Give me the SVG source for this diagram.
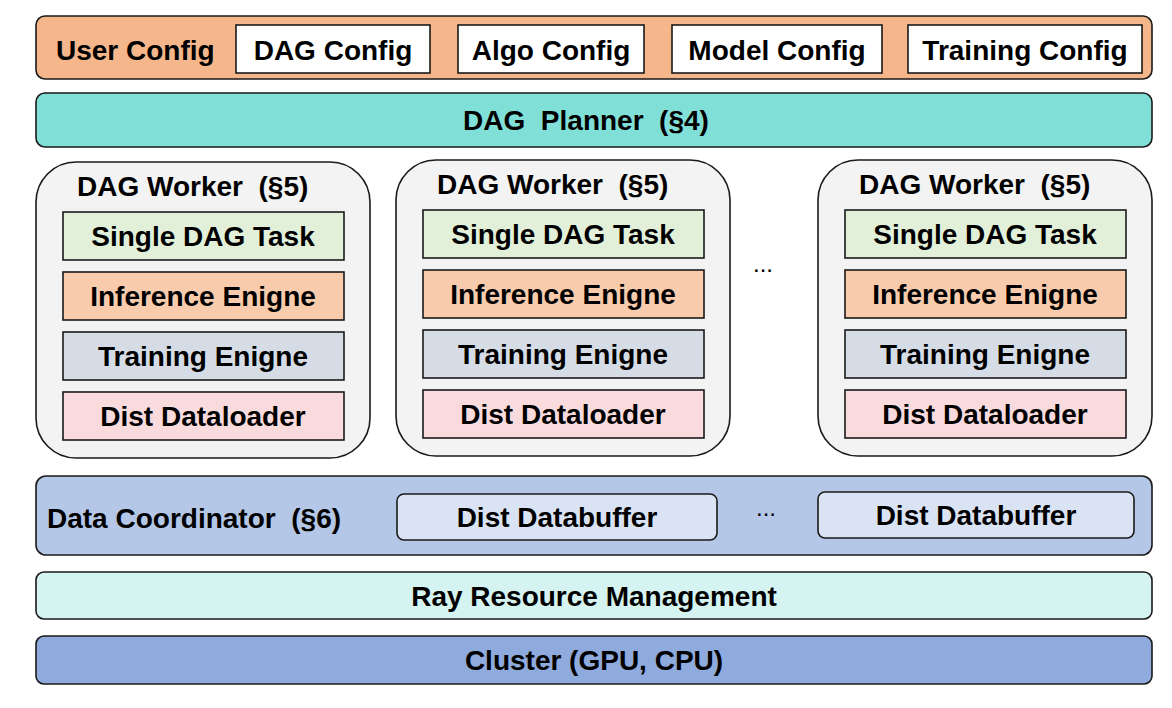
<svg xmlns="http://www.w3.org/2000/svg" width="1172" height="708" viewBox="0 0 1172 708">
<style>
text{font-family:"Liberation Sans",Arial,sans-serif;font-weight:bold;font-size:28px;fill:#000}
.c{text-anchor:middle}
.d{font-weight:normal;font-size:24px}
.b{stroke:#1a1a1a;stroke-width:1.6}
.cfg{fill:#ffffff}
.w{fill:#f3f3f3}
.t1{fill:#e2f0d9}
.t2{fill:#f8cbad}
.t3{fill:#d6dce5}
.t4{fill:#f9dbde}
.buf{fill:#dae3f3}
</style>
<rect width="1172" height="708" fill="#ffffff"/>
<g id="user-config">
<rect class="b" x="36" y="16" width="1116" height="63" rx="9" fill="#f4b68a"/>
<text x="56" y="60">User Config</text>
<rect class="b cfg" x="236" y="25" width="194" height="48"/>
<text class="c" x="333" y="60">DAG Config</text>
<rect class="b cfg" x="458" y="25" width="186" height="48"/>
<text class="c" x="551" y="60">Algo Config</text>
<rect class="b cfg" x="672" y="25" width="210" height="48"/>
<text class="c" x="777" y="60">Model Config</text>
<rect class="b cfg" x="908" y="25" width="234" height="48"/>
<text class="c" x="1025" y="60">Training Config</text>
</g>
<g id="dag-planner">
<rect class="b" x="36" y="93" width="1116" height="54" rx="9" fill="#80dfd6"/>
<text class="c" x="586" y="130" xml:space="preserve">DAG  Planner  (§4)</text>
</g>
<g id="worker-1">
<rect class="b w" x="36" y="162" width="334" height="296" rx="40"/>
<text x="77" y="196" xml:space="preserve">DAG Worker  (§5)</text>
<rect class="b t1" x="63" y="212" width="281" height="48"/>
<text class="c" x="203" y="246">Single DAG Task</text>
<rect class="b t2" x="63" y="272" width="281" height="48"/>
<text class="c" x="203" y="306">Inference Enigne</text>
<rect class="b t3" x="63" y="332" width="281" height="48"/>
<text class="c" x="203" y="366">Training Enigne</text>
<rect class="b t4" x="63" y="392" width="281" height="48"/>
<text class="c" x="203" y="426">Dist Dataloader</text>
</g>
<g id="worker-2">
<rect class="b w" x="396" y="160" width="334" height="296" rx="40"/>
<text x="437" y="194" xml:space="preserve">DAG Worker  (§5)</text>
<rect class="b t1" x="423" y="210" width="281" height="48"/>
<text class="c" x="563" y="244">Single DAG Task</text>
<rect class="b t2" x="423" y="270" width="281" height="48"/>
<text class="c" x="563" y="304">Inference Enigne</text>
<rect class="b t3" x="423" y="330" width="281" height="48"/>
<text class="c" x="563" y="364">Training Enigne</text>
<rect class="b t4" x="423" y="390" width="281" height="48"/>
<text class="c" x="563" y="424">Dist Dataloader</text>
</g>
<g id="ellipsis-workers">
<text class="c d" x="763" y="272">...</text>
</g>
<g id="worker-3">
<rect class="b w" x="818" y="160" width="334" height="296" rx="40"/>
<text x="859" y="194" xml:space="preserve">DAG Worker  (§5)</text>
<rect class="b t1" x="845" y="210" width="281" height="48"/>
<text class="c" x="985" y="244">Single DAG Task</text>
<rect class="b t2" x="845" y="270" width="281" height="48"/>
<text class="c" x="985" y="304">Inference Enigne</text>
<rect class="b t3" x="845" y="330" width="281" height="48"/>
<text class="c" x="985" y="364">Training Enigne</text>
<rect class="b t4" x="845" y="390" width="281" height="48"/>
<text class="c" x="985" y="424">Dist Dataloader</text>
</g>
<g id="data-coordinator">
<rect class="b" x="36" y="476" width="1116" height="79" rx="10" fill="#b4c7e7"/>
<text x="47" y="528" xml:space="preserve">Data Coordinator  (§6)</text>
<rect class="b buf" x="397" y="494" width="320" height="46" rx="7"/>
<text class="c" x="557" y="527">Dist Databuffer</text>
<text class="c d" x="766" y="516">...</text>
<rect class="b buf" x="818" y="492" width="316" height="46" rx="7"/>
<text class="c" x="976" y="525">Dist Databuffer</text>
</g>
<g id="ray">
<rect class="b" x="36" y="572" width="1116" height="47" rx="8" fill="#d5f3f1"/>
<text class="c" x="594" y="606">Ray Resource Management</text>
</g>
<g id="cluster">
<rect class="b" x="36" y="636" width="1116" height="48" rx="8" fill="#8faadc"/>
<text class="c" x="594" y="670">Cluster (GPU, CPU)</text>
</g>
<g id="connectors"></g>
</svg>
